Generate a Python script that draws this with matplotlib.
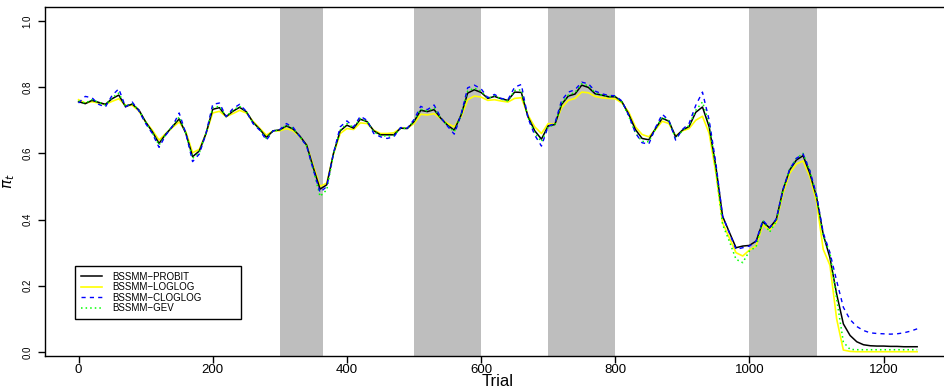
import numpy as np
import matplotlib
matplotlib.use("Agg")
import matplotlib.pyplot as plt
from matplotlib.transforms import IdentityTransform

plt.rcParams['font.family'] = ['Liberation Sans', 'DejaVu Sans']

# trial grid (every 10 trials)
trial = np.arange(0, 1251, 10)

probit = [0.756, 0.750, 0.760, 0.754, 0.748, 0.765, 0.776, 0.741, 0.749, 0.731,
          0.695, 0.665, 0.630, 0.658, 0.681, 0.704, 0.660, 0.590, 0.607, 0.660,
          0.733, 0.738, 0.711, 0.727, 0.739, 0.726, 0.694, 0.673, 0.648, 0.668,
          0.671, 0.683, 0.673, 0.652, 0.625, 0.556, 0.492, 0.505, 0.600, 0.668,
          0.685, 0.676, 0.703, 0.696, 0.668, 0.656, 0.656, 0.656, 0.676, 0.675,
          0.696, 0.730, 0.726, 0.732, 0.706, 0.685, 0.670, 0.715, 0.782, 0.792,
          0.784, 0.766, 0.772, 0.765, 0.760, 0.785, 0.784, 0.710, 0.668, 0.643,
          0.683, 0.687, 0.748, 0.773, 0.779, 0.806, 0.799, 0.780, 0.776, 0.771,
          0.771, 0.756, 0.718, 0.672, 0.645, 0.641, 0.675, 0.706, 0.697, 0.650,
          0.670, 0.681, 0.724, 0.740, 0.680, 0.560, 0.410, 0.362, 0.315, 0.320,
          0.322, 0.335, 0.393, 0.375, 0.400, 0.490, 0.550, 0.580, 0.593, 0.540,
          0.469, 0.355, 0.285, 0.175, 0.085, 0.050, 0.031, 0.022, 0.019, 0.018,
          0.018, 0.017, 0.017, 0.016, 0.016, 0.016]

loglog = [0.762, 0.752, 0.756, 0.752, 0.748, 0.757, 0.765, 0.745, 0.745, 0.728,
          0.695, 0.670, 0.640, 0.660, 0.678, 0.695, 0.665, 0.602, 0.612, 0.660,
          0.722, 0.727, 0.711, 0.720, 0.730, 0.722, 0.697, 0.676, 0.655, 0.668,
          0.668, 0.675, 0.668, 0.650, 0.625, 0.562, 0.500, 0.510, 0.598, 0.660,
          0.675, 0.672, 0.692, 0.690, 0.670, 0.660, 0.660, 0.662, 0.676, 0.676,
          0.690, 0.718, 0.716, 0.720, 0.705, 0.690, 0.680, 0.710, 0.762, 0.773,
          0.770, 0.760, 0.762, 0.758, 0.755, 0.766, 0.768, 0.715, 0.680, 0.660,
          0.690, 0.688, 0.738, 0.760, 0.766, 0.785, 0.783, 0.772, 0.768, 0.766,
          0.765, 0.752, 0.725, 0.680, 0.657, 0.650, 0.672, 0.697, 0.690, 0.652,
          0.668, 0.675, 0.700, 0.712, 0.660, 0.540, 0.390, 0.345, 0.300, 0.290,
          0.308, 0.320, 0.385, 0.368, 0.392, 0.480, 0.540, 0.568, 0.577, 0.530,
          0.455, 0.310, 0.262, 0.100, 0.006, 0.002, 0.001, 0.001, 0.001, 0.001,
          0.001, 0.001, 0.001, 0.001, 0.001, 0.001]

cloglog = [0.752, 0.772, 0.768, 0.748, 0.740, 0.775, 0.795, 0.740, 0.755, 0.728,
           0.690, 0.660, 0.618, 0.655, 0.682, 0.722, 0.660, 0.575, 0.598, 0.660,
           0.748, 0.752, 0.711, 0.735, 0.748, 0.727, 0.690, 0.670, 0.640, 0.668,
           0.672, 0.690, 0.678, 0.650, 0.622, 0.550, 0.482, 0.500, 0.600, 0.680,
           0.698, 0.680, 0.712, 0.700, 0.660, 0.650, 0.645, 0.650, 0.678, 0.676,
           0.702, 0.742, 0.732, 0.746, 0.708, 0.682, 0.658, 0.715, 0.798, 0.806,
           0.795, 0.768, 0.778, 0.766, 0.762, 0.800, 0.808, 0.706, 0.655, 0.622,
           0.682, 0.690, 0.760, 0.785, 0.792, 0.815, 0.810, 0.788, 0.780, 0.775,
           0.774, 0.758, 0.715, 0.662, 0.632, 0.628, 0.678, 0.718, 0.700, 0.640,
           0.672, 0.690, 0.745, 0.785, 0.700, 0.570, 0.410, 0.360, 0.310, 0.315,
           0.320, 0.335, 0.398, 0.375, 0.402, 0.490, 0.552, 0.585, 0.598, 0.548,
           0.475, 0.360, 0.300, 0.215, 0.135, 0.098, 0.077, 0.065, 0.058, 0.056,
           0.055, 0.054, 0.055, 0.058, 0.063, 0.070]

gev = [0.758, 0.752, 0.762, 0.754, 0.746, 0.768, 0.782, 0.742, 0.750, 0.730,
       0.694, 0.662, 0.625, 0.657, 0.682, 0.710, 0.660, 0.585, 0.602, 0.660,
       0.738, 0.742, 0.711, 0.730, 0.742, 0.727, 0.692, 0.672, 0.645, 0.668,
       0.670, 0.686, 0.675, 0.650, 0.622, 0.550, 0.470, 0.490, 0.598, 0.670,
       0.690, 0.678, 0.705, 0.697, 0.665, 0.654, 0.652, 0.654, 0.676, 0.675,
       0.698, 0.733, 0.728, 0.737, 0.706, 0.684, 0.665, 0.714, 0.788, 0.797,
       0.788, 0.766, 0.774, 0.764, 0.758, 0.790, 0.792, 0.708, 0.662, 0.635,
       0.680, 0.686, 0.752, 0.776, 0.784, 0.810, 0.804, 0.783, 0.776, 0.772,
       0.772, 0.755, 0.712, 0.662, 0.636, 0.635, 0.674, 0.710, 0.698, 0.645,
       0.668, 0.684, 0.730, 0.755, 0.690, 0.550, 0.385, 0.335, 0.280, 0.270,
       0.305, 0.318, 0.398, 0.362, 0.395, 0.490, 0.552, 0.585, 0.600, 0.548,
       0.470, 0.350, 0.300, 0.160, 0.030, 0.008, 0.007, 0.007, 0.007, 0.007,
       0.007, 0.007, 0.007, 0.007, 0.007, 0.007]

# shaded trial blocks
blocks = [(300, 365), (500, 600), (700, 800), (1000, 1100)]

fig = plt.figure(figsize=(9.45, 3.89), dpi=100)
ax = fig.add_axes([45/945, 33/389, 905.7/945, 349/389])

for a, b in blocks:
    ax.axvspan(a, b, color='#BEBEBE', lw=0, zorder=0)

l2, = ax.plot(trial, loglog, color='#FFFF00', lw=1.2, label='BSSMM\u2212LOGLOG')
l1, = ax.plot(trial, probit, color='black', lw=1.1, label='BSSMM\u2212PROBIT')
l4, = ax.plot(trial, gev, color='#00FF00', lw=1.1, ls=(0, (1, 2)), label='BSSMM\u2212GEV')
l3, = ax.plot(trial, cloglog, color='#0000FF', lw=1.0, ls=(0, (3, 3)), label='BSSMM\u2212CLOGLOG')

ax.set_xlim(-50, 1300)
ax.set_ylim(-0.012, 1.042)
ax.set_xticks([0, 200, 400, 600, 800, 1000, 1200])
ax.set_yticks([0.0, 0.2, 0.4, 0.6, 0.8, 1.0])
ax.set_yticklabels(['0.0', '0.2', '0.4', '0.6', '0.8', '1.0'], rotation=90, va='center')
ax.tick_params(axis='x', direction='out', length=5, width=1, labelsize=9.5, pad=1)
ax.tick_params(axis='y', direction='out', length=5, width=1, labelsize=7, pad=4)
for s in ax.spines.values():
    s.set_linewidth(1)

ax.set_xlabel('Trial', fontsize=12, labelpad=-2)
ax.set_ylabel(r'$\pi_t$', fontsize=11, labelpad=4)

# legend box in pixel coords (from bottom-left of figure)
leg = ax.legend(handles=[l1, l2, l3, l4], loc='lower left',
                bbox_to_anchor=(75, 70, 166, 50), bbox_transform=IdentityTransform(),
                mode='expand', fontsize=7, frameon=True, fancybox=False,
                edgecolor='black', framealpha=1, handlelength=2.2,
                handletextpad=1.0, labelspacing=0.05, borderpad=0.6,
                borderaxespad=0)
leg.get_frame().set_linewidth(1)

fig.savefig('out.png', dpi=100)
